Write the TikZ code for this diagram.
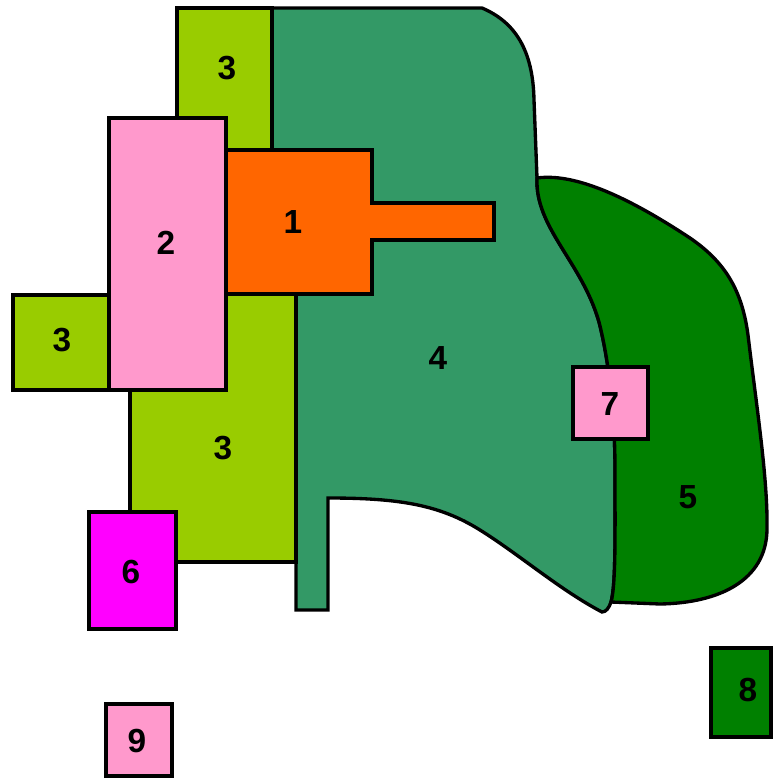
\documentclass[tikz,border=0pt]{standalone}
\usepackage{fontspec}
\setmainfont{Liberation Sans}
\definecolor{cLight}{RGB}{153,204,0}
\definecolor{cPink}{RGB}{255,153,204}
\definecolor{cOrange}{RGB}{255,102,0}
\definecolor{cMid}{RGB}{51,153,102}
\definecolor{cDark}{RGB}{0,128,0}
\definecolor{cMag}{RGB}{255,0,255}
\begin{document}
\begin{tikzpicture}[x=0.02cm,y=-0.02cm,
  zone/.style={draw=black,line width=1.9pt,line join=miter},
  lbl/.style={font=\fontsize{19}{19}\selectfont\bfseries,text=black,inner sep=0pt}]
\useasboundingbox (0,0) rectangle (772,778);
% region 4
\path[zone,fill=cMid] (272,8) -- (482,8) .. controls (515,22) and (533,50) .. (534,100) -- (537,178)
  .. controls (535,228) and (582,262) .. (599,322)
  .. controls (610,365) and (615,420) .. (615,470)
  .. controls (615,530) and (616,585) .. (611,602)
  .. controls (609,608) and (606,612) .. (602,612)
  .. controls (560,590) and (520,555) .. (480,530)
  .. controls (440,505) and (400,498) .. (328,498)
  -- (328,610) -- (296,610) -- (296,160) -- (272,160) -- cycle;
% region 5
\path[zone,fill=cDark] (537,178) .. controls (580,172) and (640,205) .. (690,238)
  .. controls (725,262) and (742,290) .. (748,335)
  .. controls (757,410) and (768,480) .. (767,530)
  .. controls (766,580) and (720,603) .. (660,604) -- (611,602)
  .. controls (616,585) and (615,530) .. (615,470)
  .. controls (615,420) and (610,365) .. (599,322)
  .. controls (582,262) and (535,228) .. (537,178) -- cycle;
% region 3 pieces
\path[zone,fill=cLight] (177,8) rectangle (272,170);
\path[zone,fill=cLight] (130,280) rectangle (296,562);
\path[zone,fill=cLight] (13,295) rectangle (109,390);
% region 2
\path[zone,fill=cPink] (109,118) rectangle (226,390);
% region 1
\path[zone,fill=cOrange] (226,150) -- (372,150) -- (372,203) -- (494,203) -- (494,240) -- (372,240) -- (372,294) -- (226,294) -- cycle;
% small boxes
\path[zone,fill=cPink] (573,367) rectangle (648,439);
\path[zone,fill=cMag] (89,512) rectangle (176,629);
\path[zone,fill=cDark] (711,648) rectangle (771,737);
\path[zone,fill=cPink] (106,704) rectangle (172,776);
% labels
\node[lbl] (l1) at (293,222) {1};
\node[lbl] (l2) at (166,243) {2};
\node[lbl] (l3a) at (227,68) {3};
\node[lbl] (l3b) at (62,340) {3};
\node[lbl] (l3c) at (223,448) {3};
\node[lbl] (l4) at (438,358) {4};
\node[lbl] (l5) at (688,497) {5};
\node[lbl] (l6) at (131,572) {6};
\node[lbl] (l7) at (610,404) {7};
\node[lbl] (l8) at (748,690) {8};
\node[lbl] (l9) at (137,741) {9};
\end{tikzpicture}
\end{document}
